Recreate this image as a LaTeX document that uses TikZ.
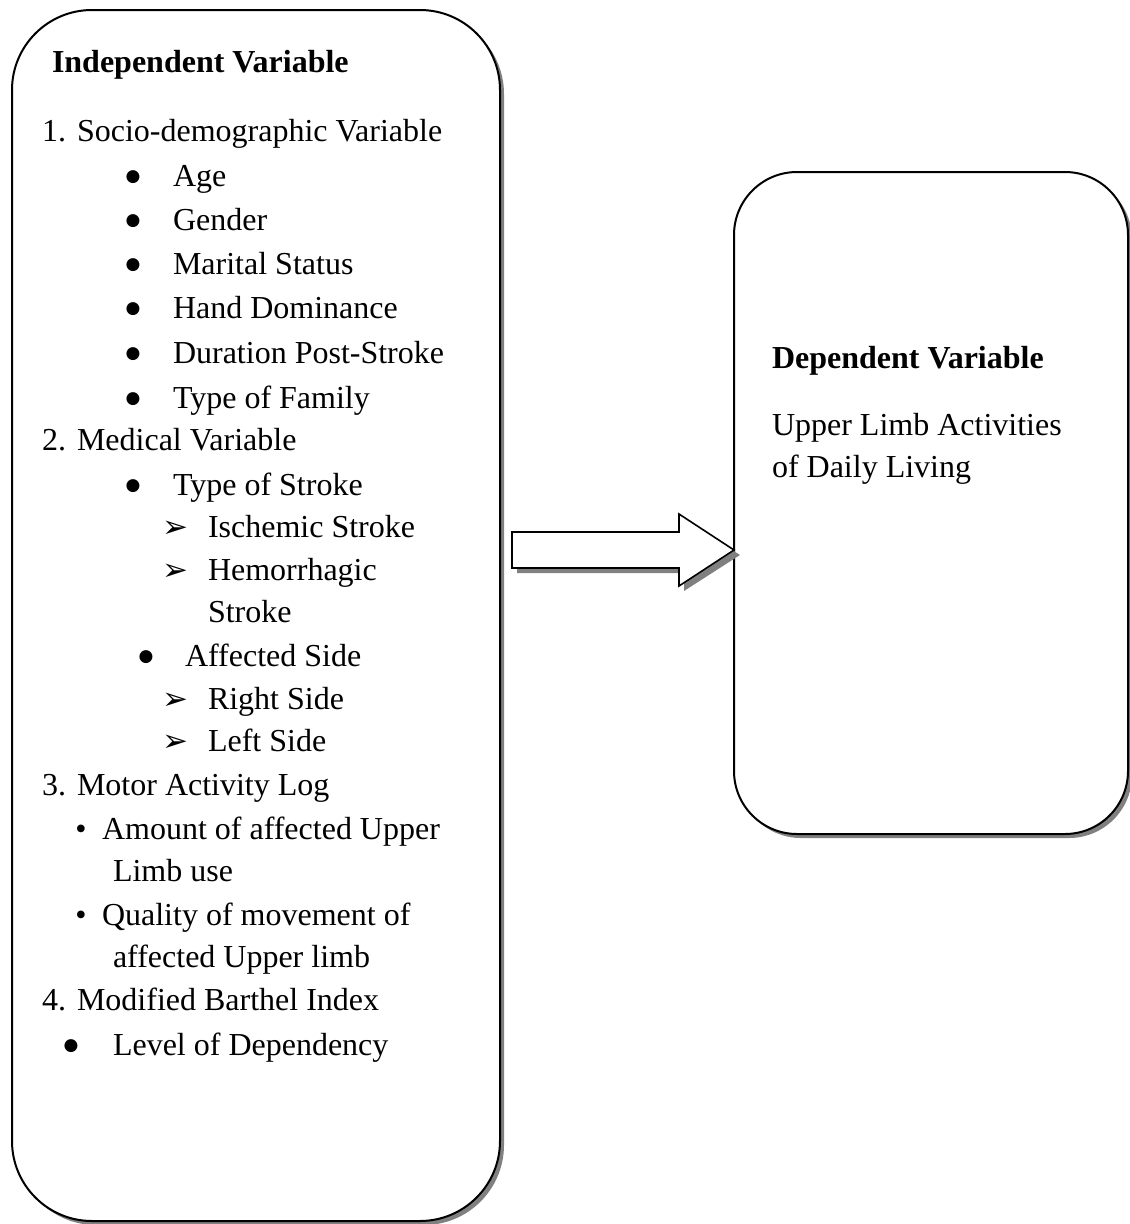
\documentclass[tikz,border=0pt]{standalone}
\usepackage{fontspec}
\setmainfont{Liberation Serif}
\newfontfamily\dejavu{DejaVu Sans}
\usetikzlibrary{shadows}
\begin{document}
\begin{tikzpicture}[x=1pt,y=-1pt,
  every node/.style={inner sep=0pt,outer sep=0pt},
  txt/.style={anchor=base west,font=\fontsize{32}{38}\selectfont},
  hdr/.style={anchor=base west,font=\fontsize{32}{38}\selectfont\bfseries},
  bigdot/.style={anchor=base,yshift=5pt,font=\dejavu\fontsize{17}{18}\selectfont},
  smalldot/.style={anchor=base,font=\fontsize{32}{38}\selectfont},
  arrowmark/.style={anchor=base west,font=\dejavu\fontsize{31}{34}\selectfont},
  box/.style={draw=black,fill=white,line width=2pt,
    drop shadow={shadow xshift=4pt,shadow yshift=-4pt,fill=black!50,opacity=1}},
  blockarrow/.style={draw=black,fill=white,line width=1.6pt,line join=miter},
  arrowshadow/.style={fill=black!50}
]
\useasboundingbox (0,0) rectangle (1130,1224);

% boxes
\node[box,minimum width=488pt,minimum height=1211pt,rounded corners=80pt] (indep) at (256,615.5) {};
\node[box,minimum width=394pt,minimum height=662pt,rounded corners=63pt] (dep) at (931,503) {};

% block arrow from the independent box to the dependent box
\coordinate (tip) at (dep.west |- 0,550);
\fill[arrowshadow,shift={(5,5)}] (512,532) -- (679,532) -- (679,514) -- (735,550) -- (679,586) -- (679,568) -- (512,568) -- cycle;
\draw[blockarrow] (512,532) -- (679,532) -- (679,514) -- (tip) -- (679,586) -- (679,568) -- (512,568) -- cycle;

% left box text
\node[hdr] (h1) at (52,72) {Independent Variable};

\node[txt] (n1) at (42,141) {1.};
\node[txt] (t1) at (77,141) {Socio-demographic Variable};
\node[bigdot] (b11) at (133,186) {●};
\node[txt] (t11) at (173,186) {Age};
\node[bigdot] (b12) at (133,230) {●};
\node[txt] (t12) at (173,230) {Gender};
\node[bigdot] (b13) at (133,274) {●};
\node[txt] (t13) at (173,274) {Marital Status};
\node[bigdot] (b14) at (133,318) {●};
\node[txt] (t14) at (173,318) {Hand Dominance};
\node[bigdot] (b15) at (133,363) {●};
\node[txt] (t15) at (173,363) {Duration Post-Stroke};
\node[bigdot] (b16) at (133,408) {●};
\node[txt] (t16) at (173,408) {Type of Family};

\node[txt] (n2) at (42,450) {2.};
\node[txt] (t2) at (77,450) {Medical Variable};
\node[bigdot] (b21) at (133,495) {●};
\node[txt] (t21) at (173,495) {Type of Stroke};
\node[arrowmark] (a211) at (162,537) {➢};
\node[txt] (t211) at (208,537) {Ischemic Stroke};
\node[arrowmark] (a212) at (162,580) {➢};
\node[txt] (t212) at (208,580) {Hemorrhagic};
\node[txt] (t212b) at (208,622) {Stroke};
\node[bigdot] (b22) at (146,666) {●};
\node[txt] (t22) at (185,666) {Affected Side};
\node[arrowmark] (a221) at (162,709) {➢};
\node[txt] (t221) at (208,709) {Right Side};
\node[arrowmark] (a222) at (162,751) {➢};
\node[txt] (t222) at (208,751) {Left Side};

\node[txt] (n3) at (42,795) {3.};
\node[txt] (t3) at (77,795) {Motor Activity Log};
\node[smalldot] (b31) at (81,839) {•};
\node[txt] (t31) at (102,839) {Amount of affected Upper};
\node[txt] (t31b) at (113,881) {Limb use};
\node[smalldot] (b32) at (81,925) {•};
\node[txt] (t32) at (102,925) {Quality of movement of};
\node[txt] (t32b) at (113,967) {affected Upper limb};

\node[txt] (n4) at (42,1010) {4.};
\node[txt] (t4) at (77,1010) {Modified Barthel Index};
\node[bigdot] (b41) at (71,1055) {●};
\node[txt] (t41) at (113,1055) {Level of Dependency};

% right box text
\node[hdr] (h2) at (772,368) {Dependent Variable};
\node[txt] (r1) at (772,435) {Upper Limb Activities};
\node[txt] (r2) at (772,477) {of Daily Living};
\end{tikzpicture}
\end{document}
